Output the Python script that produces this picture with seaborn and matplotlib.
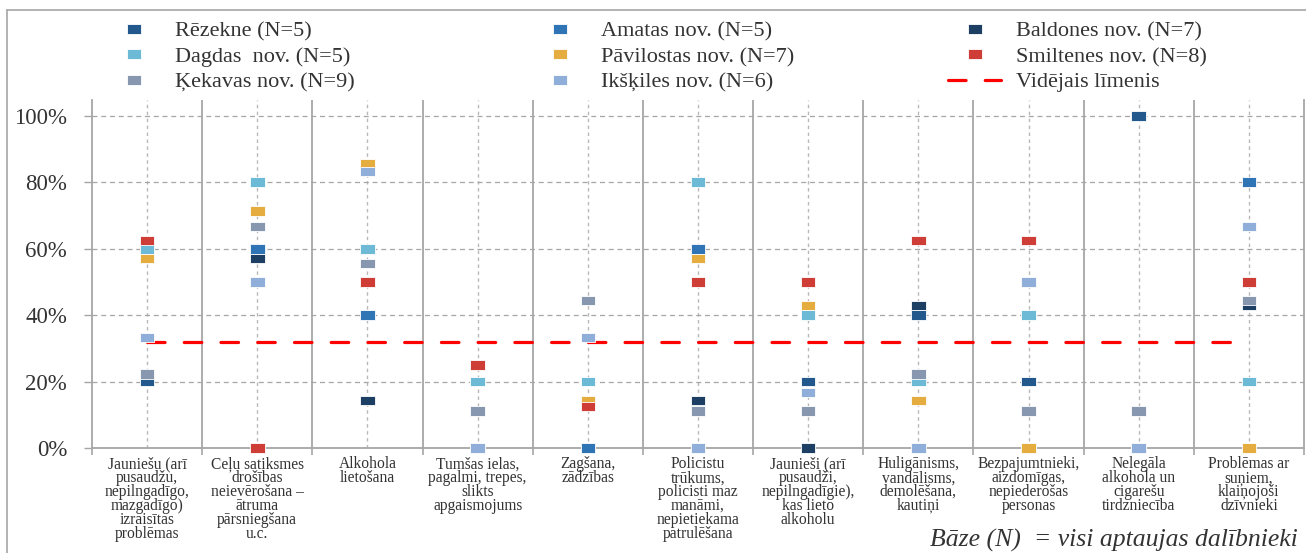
import numpy as np
import pandas as pd
import matplotlib.pyplot as plt
import seaborn as sns
from matplotlib.lines import Line2D

# --- dati ---
kategorijas = [
    "Jauniešu (arī\npusaudžu,\nnepilngadīgo,\nmazgadīgo)\nizraisītas\nproblēmas",
    "Ceļu satiksmes\ndrošības\nneievērošana –\nātruma\npārsniegšana\nu.c.",
    "Alkohola\nlietošana",
    "Tumšas ielas,\npagalmi, trepes,\nslikts\napgaismojums",
    "Zagšana,\nzādzības",
    "Policistu\ntrūkums,\npolicisti maz\nmanāmi,\nnepietiekama\npatrulēšana",
    "Jaunieši (arī\npusaudži,\nnepilngadīgie),\nkas lieto\nalkoholu",
    "Huligānisms,\nvandālisms,\ndemolēšana,\nkautiņi",
    "Bezpajumtnieki,\naizdomīgas,\nnepiederošas\npersonas",
    "Nelegāla\nalkohola un\ncigarešu\ntirdzniecība",
    "Problēmas ar\nsuņiem,\nklaiņojoši\ndzīvnieki",
]

novadi = ["Rēzekne (N=5)", "Amatas nov. (N=5)", "Baldones nov. (N=7)",
          "Dagdas  nov. (N=5)", "Pāvilostas nov. (N=7)", "Smiltenes nov. (N=8)",
          "Ķekavas nov. (N=9)", "Ikšķiles nov. (N=6)"]

rezekne    = [20, 60, 40, 0, 0, 60, 20, 40, 20, 100, 20]
amatas     = [60, 60, 40, 20, 0, 60, 40, 20, 0, 0, 80]
baldones   = [57.1, 57.1, 14.3, 0, 14.3, 14.3, 0, 42.9, 0, 0, 42.9]
dagdas     = [60, 80, 60, 20, 20, 80, 40, 20, 40, 0, 20]
pavilostas = [57.1, 71.4, 85.7, 0, 14.3, 57.1, 42.9, 14.3, 0, 0, 0]
smiltenes  = [62.5, 0, 50, 25, 12.5, 50, 50, 62.5, 62.5, 0, 50]
kekavas    = [22.2, 66.7, 55.6, 11.1, 44.4, 11.1, 11.1, 22.2, 11.1, 11.1, 44.4]
ikskiles   = [33.3, 50, 83.3, 0, 33.3, 0, 16.7, 0, 50, 0, 66.7]
videjais   = [32] * len(kategorijas)

krasas = ["#22588B", "#2F75B5", "#1C3F63", "#6DBAD6",
          "#E5AD3F", "#CF3E36", "#8797B0", "#8FAEDA"]

vertibas = [rezekne, amatas, baldones, dagdas, pavilostas, smiltenes, kekavas, ikskiles]
df = pd.DataFrame([
    {"Kategorija": k, "Novads": n, "Vertiba": v}
    for n, vals in zip(novadi, vertibas)
    for k, v in zip(kategorijas, vals)
])

sns.set_style("white")
plt.rcParams['font.family'] = ['Liberation Serif', 'DejaVu Serif']
teksts = '#333333'
peleks = '#A6A6A6'

fig = plt.figure(figsize=(13.06, 5.53), dpi=100)
ax = fig.add_axes([92 / 1306, 1 - 448 / 553, 1212 / 1306, 348 / 553])

# taisnstūra marķieris (platāks nekā augstāks)
rect = [(-1.5, -1), (1.5, -1), (1.5, 1), (-1.5, 1), (-1.5, -1)]

sns.lineplot(x=kategorijas, y=videjais, color='#FF0000', lw=2.3, ax=ax,
             sort=False, zorder=3)
vid_line = ax.lines[-1]
vid_line.set_dashes([5.5, 6])
vid_line.set_dash_capstyle('round')

sns.scatterplot(data=df, x="Kategorija", y="Vertiba", hue="Novads",
                hue_order=novadi, palette=dict(zip(novadi, krasas)),
                marker=rect, s=110, edgecolor='white', linewidth=0.6,
                legend=False, ax=ax, zorder=4, clip_on=False)

# asis
ax.set_xlim(-0.5, len(kategorijas) - 0.5)
ax.set_ylim(0, 104.8)
ax.set_yticks(range(0, 101, 20))
ax.set_yticklabels([f"{v}%" for v in range(0, 101, 20)])
ax.set_xlabel("")
ax.set_ylabel("")

ax.yaxis.grid(True, linestyle=(0, (4, 3)), color=peleks, lw=0.9)
ax.xaxis.grid(True, linestyle=(0, (2.5, 2.5)), color='#B8B8B8', lw=1.0)
ax.set_axisbelow(True)
for i in range(len(kategorijas) - 1):
    ax.axvline(i + 0.5, color=peleks, lw=1.3, zorder=1)

for s in ['left', 'bottom', 'right']:
    ax.spines[s].set_color(peleks)
    ax.spines[s].set_linewidth(1.3)
ax.spines['top'].set_visible(False)

ax.set_xticks(np.arange(-0.5, len(kategorijas), 1), minor=True)
ax.tick_params(axis='x', which='major', length=0, pad=6, labelsize=11.2,
               labelcolor=teksts)
ax.tick_params(axis='x', which='minor', length=5, color=peleks, width=1.2,
               direction='out', bottom=True)
ax.tick_params(axis='y', length=6, color=peleks, width=1, pad=12,
               labelsize=16.5, labelcolor=teksts, left=True)
for lbl in ax.get_xticklabels():
    lbl.set_linespacing(0.82)

# leģenda - trīs kolonnas
handles = [Line2D([], [], ls='none', marker=rect, markersize=10.5,
                  markerfacecolor=c, markeredgecolor='white', markeredgewidth=0.6)
           for c in krasas]
vid_handle = Line2D([], [], color='#FF0000', lw=2.3, dashes=[5.5, 6],
                    dash_capstyle='round')
handles.append(vid_handle)
labels = novadi + ["Vidējais līmenis"]

for col, x0 in enumerate([107, 533, 948]):
    idx = [col, col + 3, col + 6]
    idx = [i for i in idx if i < len(handles)]
    fig.legend([handles[i] for i in idx], [labels[i] for i in idx],
               loc='upper left', bbox_to_anchor=(x0 / 1306, 1 - 21 / 553),
               frameon=False, fontsize=16, handlelength=2.4, handletextpad=0.65,
               labelspacing=0.22, borderpad=0, borderaxespad=0,
               labelcolor=teksts)

# rāmis
fig.add_artist(Line2D([7 / 1306, 7 / 1306], [0, 1 - 10 / 553],
                      transform=fig.transFigure, color=peleks, lw=1.2))
fig.add_artist(Line2D([7 / 1306, 1], [1 - 10 / 553, 1 - 10 / 553],
                      transform=fig.transFigure, color=peleks, lw=1.2))

fig.text(1 - 8 / 1306, 1 / 553, "Bāze (N)  = visi aptaujas dalībnieki",
         ha='right', va='bottom', style='italic', fontsize=18.5, color=teksts)

fig.savefig("out.png", dpi=100)
